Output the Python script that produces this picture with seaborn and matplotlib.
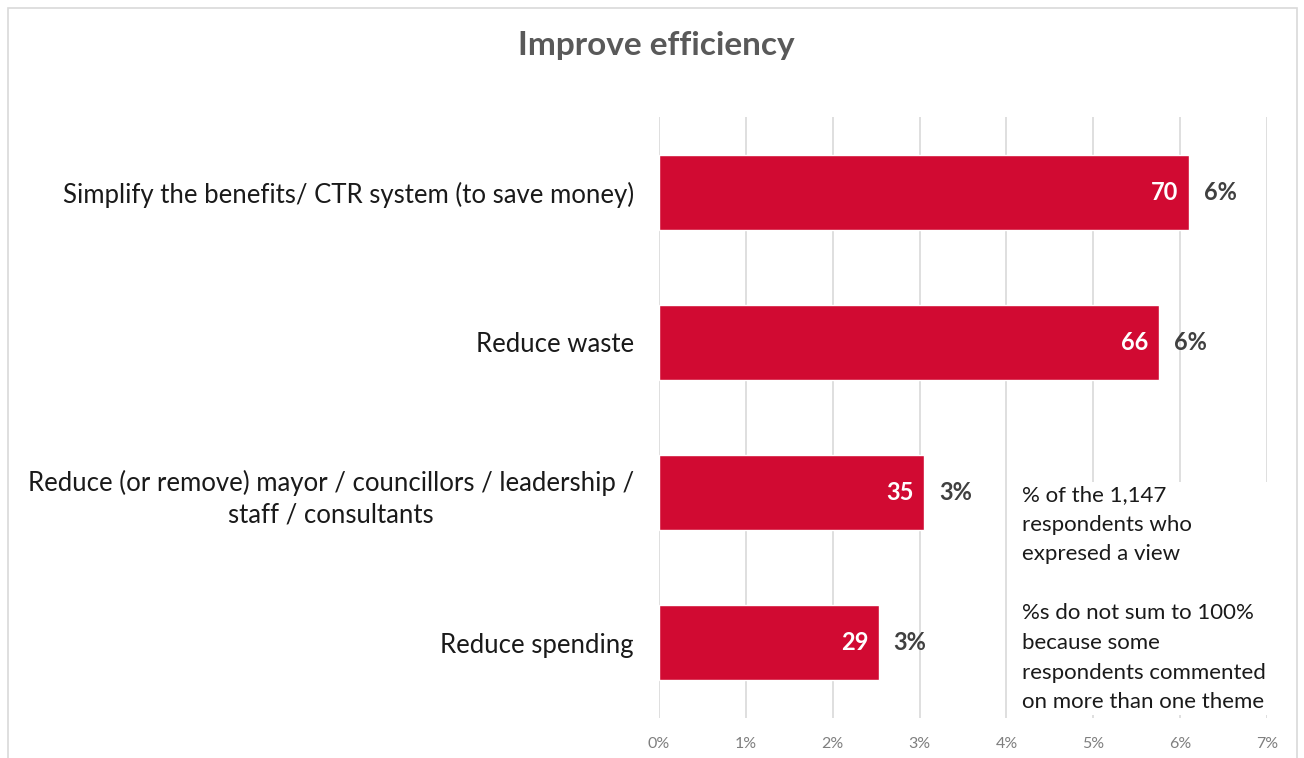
import numpy as np
import pandas as pd
import matplotlib.pyplot as plt
import seaborn as sns
from matplotlib.patches import Rectangle

# data
themes = [
    "Simplify the benefits/ CTR system (to save money)",
    "Reduce waste",
    "Reduce (or remove) mayor / councillors / leadership /\nstaff / consultants",
    "Reduce spending",
]
counts = [70, 66, 35, 29]
total_respondents = 1147
pct_labels = ["6%", "6%", "3%", "3%"]
x_ticks = [0, 1, 2, 3, 4, 5, 6, 7]

df = pd.DataFrame({"theme": themes, "count": counts})
df["pct"] = df["count"] / total_respondents * 100

sns.set_theme(style="white")
plt.rcParams['font.family'] = ['Lato', 'DejaVu Sans']

bar_color = "#D10A32"

fig = plt.figure(figsize=(13.04, 7.58), dpi=100)
ax = fig.add_axes([659 / 1304, 1 - 718 / 758, (1267 - 659) / 1304, (718 - 117) / 758])

sns.barplot(data=df, x="pct", y="theme", color=bar_color, width=0.5,
            saturation=1, ax=ax, zorder=3)

ax.set_xlim(0, 7)
ax.set_ylim(3.5, -0.5)
ax.set_xticks(x_ticks)
ax.set_xticklabels([f"{t}%" for t in x_ticks], color="#7f7f7f", fontsize=11.5)
ax.tick_params(axis="x", length=0, pad=14)
ax.tick_params(axis="y", length=0, pad=18, labelsize=18.5, labelcolor="#1a1a1a")
for lab in ax.get_yticklabels():
    lab.set_multialignment("center")
    lab.set_linespacing(1.35)
ax.set_xlabel("")
ax.set_ylabel("")
ax.grid(axis="x", color="#d9d9d9", linewidth=1.2, zorder=0)
for s in ax.spines.values():
    s.set_visible(False)

# labels on bars
for i, (c, p, pl) in enumerate(zip(df["count"], df["pct"], pct_labels)):
    ax.text(p - 0.12, i, str(c), ha="right", va="center", color="white",
            fontsize=17, fontweight="bold", zorder=4)
    ax.text(p + 0.17, i, pl, ha="left", va="center", color="#404040",
            fontsize=17, fontweight="bold", zorder=4)

fig.text(0.503, 1 - 46 / 758, "Improve efficiency", ha="center", va="center",
         fontsize=24, fontweight="bold", color="#595959")

note = ("% of the 1,147\nrespondents who\nexpresed a view\n\n"
        "%s do not sum to 100%\nbecause some\nrespondents commented\non more than one theme")
fig.text(1022 / 1304, 1 - 485 / 758, note, ha="left", va="top",
         fontsize=16, color="#1a1a1a", linespacing=1.6,
         bbox=dict(facecolor="white", edgecolor="none", pad=2))

# outer frame
fig.patches.append(Rectangle((8 / 1304, -0.05), (1297 - 8) / 1304, 1.05 - 8 / 758,
                             transform=fig.transFigure, fill=False,
                             edgecolor="#d9d9d9", linewidth=1.2))

fig.savefig("out.png", dpi=100)
